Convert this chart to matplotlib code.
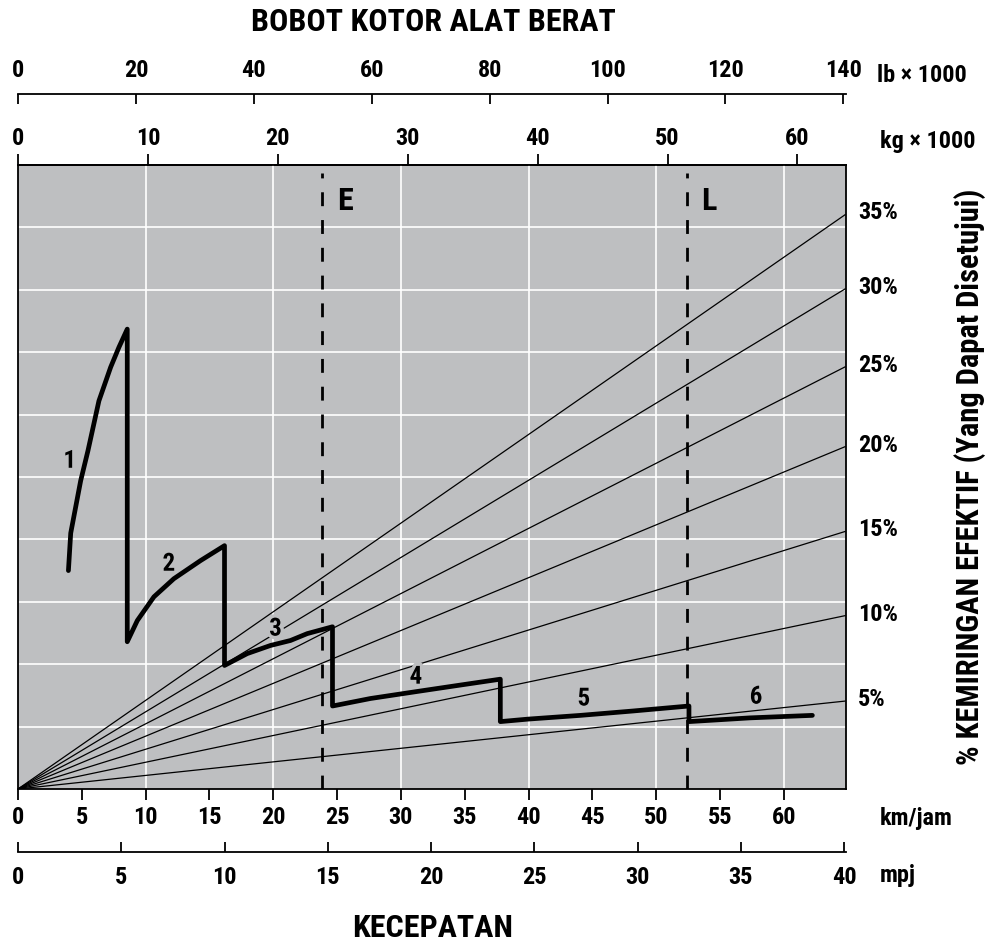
import matplotlib
matplotlib.use('Agg')
import matplotlib.pyplot as plt
import matplotlib.patheffects as pe

FONT = ['Roboto Condensed', 'DejaVu Sans']
WT = 800
plt.rcParams['font.family'] = FONT
plt.rcParams['font.weight'] = WT

# ---------------- data ----------------
speed_max_kmh = 64.85          # right edge of chart (km/jam)
kg_per_kmh = 0.9825            # top kg scale relative to km/jam scale
lb_per_kmh = 2.165             # top lb scale relative to km/jam scale
mph_per_kmh = 0.618            # bottom mpj scale relative to km/jam scale

kmh_ticks = [0, 5, 10, 15, 20, 25, 30, 35, 40, 45, 50, 55, 60]
mph_ticks = [0, 5, 10, 15, 20, 25, 30, 35, 40]
kg_ticks = [0, 10, 20, 30, 40, 50, 60]
lb_ticks = [0, 20, 40, 60, 80, 100, 120, 140]

grade_labels = ['5%', '10%', '15%', '20%', '25%', '30%', '35%']
grade_end_y = [1.41, 2.78, 4.13, 5.49, 6.77, 8.02, 9.21]

gear1_x = [3.95, 4.13, 4.91, 5.48, 6.34, 7.26, 7.91, 8.56]
gear1_y = [3.50, 4.10, 4.94, 5.42, 6.22, 6.76, 7.08, 7.37]
gear2_x = [8.56, 9.35, 10.65, 12.21, 14.30, 16.18]
gear2_y = [2.36, 2.70, 3.08, 3.37, 3.66, 3.90]
gear3_x = [16.18, 17.96, 19.78, 21.35, 22.66, 24.64]
gear3_y = [1.98, 2.17, 2.30, 2.38, 2.49, 2.60]
gear4_x = [24.64, 27.61, 31.18, 34.47, 37.79]
gear4_y = [1.33, 1.45, 1.56, 1.66, 1.76]
gear5_x = [37.79, 39.96, 44.07, 48.18, 52.57]
gear5_y = [1.08, 1.12, 1.18, 1.25, 1.33]
gear6_x = [52.57, 57.36, 62.24]
gear6_y = [1.08, 1.14, 1.18]

gear_labels = ['1', '2', '3', '4', '5', '6']
gear_label_x = [4.05, 11.82, 20.18, 31.18, 44.34, 57.83]
gear_label_y = [5.26, 3.61, 2.57, 1.80, 1.45, 1.48]

marker_labels = ['E', 'L']
marker_speed = [23.8, 52.45]

# ---------------- figure ----------------
W, H = 989, 943
BG = '#bebfc1'
fig = plt.figure(figsize=(W / 100, H / 100), dpi=100)
L, R, T, B = 18, 845.7, 165, 789
ax = fig.add_axes([L / W, 1 - B / H, (R - L) / W, (B - T) / H])
ax.set_facecolor(BG)
ax.set_xlim(0, speed_max_kmh)
ax.set_ylim(0, 10)

# white grid
for gx in range(10, 61, 10):
    ax.axvline(gx, color='white', lw=1.2, zorder=1)
for gy in range(1, 10):
    ax.axhline(gy, color='white', lw=1.2, zorder=1)

# grade lines
for lab, ye in zip(grade_labels, grade_end_y):
    ax.plot([0, speed_max_kmh], [0, ye], color='black', lw=0.9, zorder=2,
            solid_capstyle='butt')
    ax.annotate(lab, xy=(speed_max_kmh, ye), xytext=(9, 1),
                textcoords='offset points', ha='left', va='center',
                fontsize=17.5, fontweight=WT, annotation_clip=False)

# E and L dashed lines
for lab, sp in zip(marker_labels, marker_speed):
    ax.plot([sp, sp], [0, 9.87], color='black', lw=2.0, zorder=3,
            dashes=(5, 5), solid_capstyle='butt')
ax.text(marker_speed[0] + 1.2, 9.42, marker_labels[0], fontsize=23,
        fontweight=WT, ha='left', va='center', zorder=5)
ax.text(marker_speed[1] + 1.05, 9.42, marker_labels[1], fontsize=23,
        fontweight=WT, ha='left', va='center', zorder=5)

# performance curve
curve_x = gear1_x + gear2_x + gear3_x + gear4_x + gear5_x + gear6_x
curve_y = gear1_y + gear2_y + gear3_y + gear4_y + gear5_y + gear6_y
ax.plot(curve_x, curve_y, color='black', lw=3.4, zorder=6,
        solid_joinstyle='round', solid_capstyle='round')

for lab, gx, gy in zip(gear_labels, gear_label_x, gear_label_y):
    ax.text(gx, gy, lab, fontsize=18, fontweight=WT, ha='center',
            va='center', zorder=4,
            path_effects=[pe.withStroke(linewidth=5, foreground=BG)])

# spines / main axis (km/jam)
for s in ax.spines.values():
    s.set_linewidth(1.3)
    s.set_zorder(7)
ax.set_yticks([])
ax.set_xticks(kmh_ticks)
ax.tick_params(axis='x', direction='out', length=8, width=1.3,
               labelsize=17.5, pad=4)

# kg axis (top spine)
sec_kg = ax.secondary_xaxis('top', functions=(lambda v: v * kg_per_kmh,
                                              lambda v: v / kg_per_kmh))
sec_kg.set_xticks(kg_ticks)
sec_kg.tick_params(direction='out', length=8, width=1.3, labelsize=17.5, pad=3)
sec_kg.spines['top'].set_linewidth(1.3)

# lb axis (detached, above)
lb_loc = 1 + (T - 94.3) / (B - T)
sec_lb = ax.secondary_xaxis(lb_loc, functions=(lambda v: v * lb_per_kmh,
                                               lambda v: v / lb_per_kmh))
sec_lb.set_xticks(lb_ticks)
sec_lb.tick_params(direction='in', length=7, width=1.3, labelsize=17.5, pad=9)
sec_lb.spines['top'].set_linewidth(1.3)

# mpj axis (detached, below)
mph_loc = -(851.7 - B) / (B - T)
sec_mph = ax.secondary_xaxis(mph_loc, functions=(lambda v: v * mph_per_kmh,
                                                 lambda v: v / mph_per_kmh))
sec_mph.set_xticks(mph_ticks)
sec_mph.tick_params(direction='in', length=7, width=1.3, labelsize=17.5, pad=10)
sec_mph.spines['bottom'].set_linewidth(1.3)

for a in (ax, sec_kg, sec_lb, sec_mph):
    for t in a.get_xticklabels():
        t.set_fontweight(WT)

# unit labels
def ftext(x, y, s, **kw):
    fig.text(x / W, 1 - y / H, s, fontweight=WT, **kw)

ftext(877, 81.7, 'lb × 1000', fontsize=17.5, ha='left', va='baseline')
ftext(880, 148.3, 'kg × 1000', fontsize=17.5, ha='left', va='baseline')
ftext(880, 825, 'km/jam', fontsize=17.5, ha='left', va='baseline')
ftext(880, 881.7, 'mpj', fontsize=17.5, ha='left', va='baseline')

ftext(433, 31, 'BOBOT KOTOR ALAT BERAT', fontsize=23, ha='center', va='baseline')
ftext(433, 937, 'KECEPATAN', fontsize=23, ha='center', va='baseline')
ftext(970, 477, '% KEMIRINGAN EFEKTIF (Yang Dapat Disetujui)', fontsize=22,
      ha='center', va='center', rotation=90)

fig.savefig('out.png', dpi=100)
